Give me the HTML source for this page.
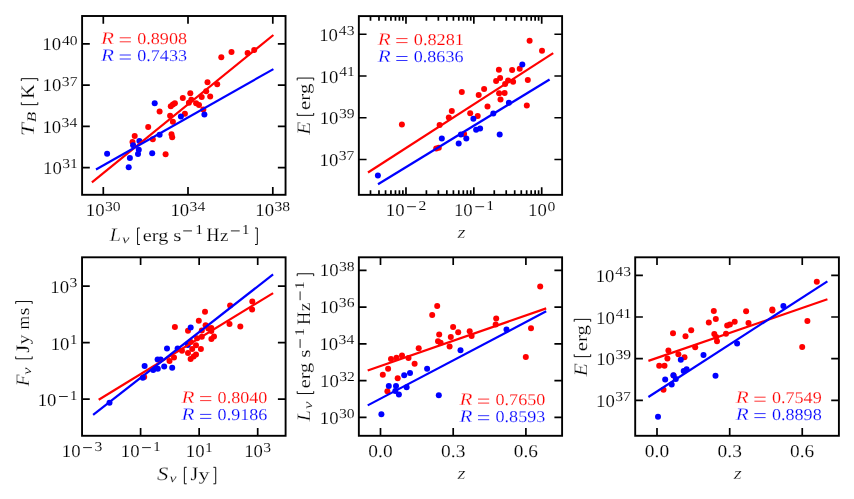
<!DOCTYPE html>
<html><head><meta charset="utf-8"><title>Correlations</title>
<style>html,body{margin:0;padding:0;background:#fff;overflow:hidden}svg{display:block;will-change:transform}text{font-family:"Liberation Serif",serif;text-rendering:geometricPrecision}</style></head>
<body>
<svg width="854" height="499" viewBox="0 0 854 499">
<rect width="854" height="499" fill="#fff"/>
<g fill="#ff0000"><circle cx="134.7" cy="135.9" r="3.0"/><circle cx="132.5" cy="142.1" r="3.0"/><circle cx="148.2" cy="126.9" r="3.0"/><circle cx="152.8" cy="139.3" r="3.0"/><circle cx="159.6" cy="111.4" r="3.0"/><circle cx="165.6" cy="154.3" r="3.0"/><circle cx="170.1" cy="115.8" r="3.0"/><circle cx="172.9" cy="121.7" r="3.0"/><circle cx="171.5" cy="134.3" r="3.0"/><circle cx="172.2" cy="137.3" r="3.0"/><circle cx="170.8" cy="106.2" r="3.0"/><circle cx="172.9" cy="104.6" r="3.0"/><circle cx="174.9" cy="103.3" r="3.0"/><circle cx="182.8" cy="98.1" r="3.0"/><circle cx="184.9" cy="113.7" r="3.0"/><circle cx="188.9" cy="102.8" r="3.0"/><circle cx="190.3" cy="93.3" r="3.0"/><circle cx="191.3" cy="99.7" r="3.0"/><circle cx="196.1" cy="103.3" r="3.0"/><circle cx="199.0" cy="104.9" r="3.0"/><circle cx="201.7" cy="96.9" r="3.0"/><circle cx="203.3" cy="109.4" r="3.0"/><circle cx="206.2" cy="91.3" r="3.0"/><circle cx="210.2" cy="96.5" r="3.0"/><circle cx="207.5" cy="82.3" r="3.0"/><circle cx="217.2" cy="84.3" r="3.0"/><circle cx="221.3" cy="57.3" r="3.0"/><circle cx="231.5" cy="52.1" r="3.0"/><circle cx="247.6" cy="52.9" r="3.0"/><circle cx="254.2" cy="50.1" r="3.0"/></g>
<g fill="#0000ff"><circle cx="107.1" cy="153.7" r="3.0"/><circle cx="128.7" cy="167.3" r="3.0"/><circle cx="129.9" cy="158.1" r="3.0"/><circle cx="133.1" cy="145.3" r="3.0"/><circle cx="139.4" cy="141.1" r="3.0"/><circle cx="138.8" cy="149.7" r="3.0"/><circle cx="138.0" cy="153.9" r="3.0"/><circle cx="152.2" cy="153.3" r="3.0"/><circle cx="159.6" cy="134.8" r="3.0"/><circle cx="154.7" cy="103.3" r="3.0"/><circle cx="180.9" cy="116.4" r="3.0"/><circle cx="204.4" cy="114.5" r="3.0"/></g>
<path d="M91.9 182.3L273.4 35.0" stroke="#ff0000" stroke-width="2.2" fill="none"/>
<path d="M96.0 169.5L273.4 69.1" stroke="#0000ff" stroke-width="2.2" fill="none"/>
<path d="M103.30 16.00v7.7M103.30 194.80v-7.7M188.00 16.00v7.7M188.00 194.80v-7.7M272.80 16.00v7.7M272.80 194.80v-7.7M82.10 43.80h7.7M285.55 43.80h-7.7M82.10 85.07h7.7M285.55 85.07h-7.7M82.10 126.33h7.7M285.55 126.33h-7.7M82.10 167.60h7.7M285.55 167.60h-7.7" stroke="#000" stroke-width="1.7" fill="none"/>
<rect x="82.10" y="16.00" width="203.45" height="178.80" fill="none" stroke="#000" stroke-width="1.9"/>
<text transform="translate(42.31,50.00) scale(1.042,1)" font-size="18" fill="#000" stroke="#fff" stroke-width="0.16" vector-effect="non-scaling-stroke">10</text>
<text transform="translate(61.96,44.60) scale(1.150,1)" font-size="13.6" fill="#000" stroke="#fff" stroke-width="0.1" vector-effect="non-scaling-stroke">40</text>
<text transform="translate(42.61,91.27) scale(1.042,1)" font-size="18" fill="#000" stroke="#fff" stroke-width="0.16" vector-effect="non-scaling-stroke">10</text>
<text transform="translate(61.81,85.87) scale(1.150,1)" font-size="13.6" fill="#000" stroke="#fff" stroke-width="0.1" vector-effect="non-scaling-stroke">37</text>
<text transform="translate(42.40,132.53) scale(1.042,1)" font-size="18" fill="#000" stroke="#fff" stroke-width="0.16" vector-effect="non-scaling-stroke">10</text>
<text transform="translate(61.60,127.13) scale(1.150,1)" font-size="13.6" fill="#000" stroke="#fff" stroke-width="0.1" vector-effect="non-scaling-stroke">34</text>
<text transform="translate(43.10,173.80) scale(1.042,1)" font-size="18" fill="#000" stroke="#fff" stroke-width="0.16" vector-effect="non-scaling-stroke">10</text>
<text transform="translate(62.30,168.40) scale(1.150,1)" font-size="13.6" fill="#000" stroke="#fff" stroke-width="0.1" vector-effect="non-scaling-stroke">31</text>
<text transform="translate(85.85,216.20) scale(1.042,1)" font-size="18" fill="#000" stroke="#fff" stroke-width="0.16" vector-effect="non-scaling-stroke">10</text>
<text transform="translate(105.05,210.60) scale(1.150,1)" font-size="13.6" fill="#000" stroke="#fff" stroke-width="0.1" vector-effect="non-scaling-stroke">30</text>
<text transform="translate(170.38,216.20) scale(1.042,1)" font-size="18" fill="#000" stroke="#fff" stroke-width="0.16" vector-effect="non-scaling-stroke">10</text>
<text transform="translate(189.58,210.60) scale(1.150,1)" font-size="13.6" fill="#000" stroke="#fff" stroke-width="0.1" vector-effect="non-scaling-stroke">34</text>
<text transform="translate(255.35,216.20) scale(1.042,1)" font-size="18" fill="#000" stroke="#fff" stroke-width="0.16" vector-effect="non-scaling-stroke">10</text>
<text transform="translate(274.55,210.60) scale(1.150,1)" font-size="13.6" fill="#000" stroke="#fff" stroke-width="0.1" vector-effect="non-scaling-stroke">38</text>
<text transform="translate(101.11,43.70) scale(1.210,1)" font-size="17.5" font-style="italic" fill="#ff0000" stroke="#fff" stroke-width="0.28" vector-effect="non-scaling-stroke">R</text>
<path d="M119.70 37.80H130.90" stroke="#ff0000" stroke-width="0.8" fill="none"/>
<path d="M119.70 41.80H130.90" stroke="#ff0000" stroke-width="0.8" fill="none"/>
<text transform="translate(137.21,43.70) scale(1.097,1)" font-size="16.5" fill="#ff0000" stroke="#fff" stroke-width="0.16" vector-effect="non-scaling-stroke">0.8908</text>
<text transform="translate(101.11,60.90) scale(1.210,1)" font-size="17.5" font-style="italic" fill="#0000ff" stroke="#fff" stroke-width="0.28" vector-effect="non-scaling-stroke">R</text>
<path d="M119.70 55.00H130.90" stroke="#0000ff" stroke-width="0.8" fill="none"/>
<path d="M119.70 59.00H130.90" stroke="#0000ff" stroke-width="0.8" fill="none"/>
<text transform="translate(137.21,60.90) scale(1.097,1)" font-size="16.5" fill="#0000ff" stroke="#fff" stroke-width="0.16" vector-effect="non-scaling-stroke">0.7433</text>
<text transform="translate(109.74,240.90) scale(1.062,1)" font-size="19.0" font-style="italic" fill="#000" stroke="#fff" stroke-width="0.28" vector-effect="non-scaling-stroke">L</text>
<text transform="translate(122.07,243.00) scale(1.372,1)" font-size="12.2" font-style="italic" fill="#000" stroke="#fff" stroke-width="0.1" vector-effect="non-scaling-stroke">ν</text>
<path d="M139.90 228.00L137.57 228.00L137.57 244.50L139.90 244.50" stroke="#000" stroke-width="0.95" fill="none" stroke-linejoin="miter"/>
<text transform="translate(142.81,240.90) scale(1.178,1)" font-size="17.2" fill="#000" stroke="#fff" stroke-width="0.16" vector-effect="non-scaling-stroke">erg</text>
<text transform="translate(173.23,240.90) scale(1.230,1)" font-size="17.2" fill="#000" stroke="#fff" stroke-width="0.16" vector-effect="non-scaling-stroke">s</text>
<path d="M183.20 230.90H192.00" stroke="#000" stroke-width="0.85" fill="none"/>
<text transform="translate(195.13,234.40) scale(1.150,1)" font-size="13.6" fill="#000" stroke="#fff" stroke-width="0.1" vector-effect="non-scaling-stroke">1</text>
<text transform="translate(206.39,240.90) scale(0.935,1)" font-size="19.0" fill="#000" stroke="#fff" stroke-width="0.16" vector-effect="non-scaling-stroke">H</text>
<text transform="translate(219.99,240.90) scale(1.106,1)" font-size="17.2" fill="#000" stroke="#fff" stroke-width="0.16" vector-effect="non-scaling-stroke">z</text>
<path d="M230.90 230.90H239.70" stroke="#000" stroke-width="0.85" fill="none"/>
<text transform="translate(241.83,234.40) scale(1.150,1)" font-size="13.6" fill="#000" stroke="#fff" stroke-width="0.1" vector-effect="non-scaling-stroke">1</text>
<path d="M255.00 228.00L257.32 228.00L257.32 244.50L255.00 244.50" stroke="#000" stroke-width="0.95" fill="none" stroke-linejoin="miter"/>
<text transform="translate(34.20,136.35) rotate(-90) scale(1.244,1)" font-size="19.0" font-style="italic" fill="#000" stroke="#fff" stroke-width="0.28" vector-effect="non-scaling-stroke">T</text>
<text transform="translate(36.20,122.36) rotate(-90) scale(1.301,1)" font-size="13.0" font-style="italic" fill="#000" stroke="#fff" stroke-width="0.1" vector-effect="non-scaling-stroke">B</text>
<path d="M21.30 102.30L21.30 104.63L37.80 104.63L37.80 102.30" stroke="#000" stroke-width="0.95" fill="none" stroke-linejoin="miter"/>
<text transform="translate(34.20,98.87) rotate(-90) scale(1.040,1)" font-size="19.0" fill="#000" stroke="#fff" stroke-width="0.16" vector-effect="non-scaling-stroke">K</text>
<path d="M21.30 81.00L21.30 78.68L37.80 78.68L37.80 81.00" stroke="#000" stroke-width="0.95" fill="none" stroke-linejoin="miter"/>
<g fill="#ff0000"><circle cx="401.9" cy="124.6" r="3.0"/><circle cx="439.6" cy="125.1" r="3.0"/><circle cx="436.2" cy="148.5" r="3.0"/><circle cx="438.8" cy="147.7" r="3.0"/><circle cx="448.8" cy="117.6" r="3.0"/><circle cx="451.8" cy="110.9" r="3.0"/><circle cx="464.1" cy="134.1" r="3.0"/><circle cx="470.2" cy="113.2" r="3.0"/><circle cx="477.7" cy="116.1" r="3.0"/><circle cx="461.8" cy="92.1" r="3.0"/><circle cx="478.7" cy="95.1" r="3.0"/><circle cx="484.1" cy="89.1" r="3.0"/><circle cx="487.5" cy="106.4" r="3.0"/><circle cx="499.1" cy="93.3" r="3.0"/><circle cx="504.6" cy="92.9" r="3.0"/><circle cx="500.5" cy="99.4" r="3.0"/><circle cx="526.8" cy="105.6" r="3.0"/><circle cx="496.1" cy="81.1" r="3.0"/><circle cx="500.1" cy="78.1" r="3.0"/><circle cx="508.1" cy="80.5" r="3.0"/><circle cx="513.1" cy="81.7" r="3.0"/><circle cx="505.1" cy="84.1" r="3.0"/><circle cx="498.9" cy="69.7" r="3.0"/><circle cx="512.1" cy="70.1" r="3.0"/><circle cx="519.7" cy="68.7" r="3.0"/><circle cx="527.8" cy="80.1" r="3.0"/><circle cx="529.6" cy="40.7" r="3.0"/><circle cx="542.0" cy="50.7" r="3.0"/></g>
<g fill="#0000ff"><circle cx="377.9" cy="175.4" r="3.0"/><circle cx="441.8" cy="138.5" r="3.0"/><circle cx="458.7" cy="143.6" r="3.0"/><circle cx="460.9" cy="134.5" r="3.0"/><circle cx="466.3" cy="138.4" r="3.0"/><circle cx="473.4" cy="118.7" r="3.0"/><circle cx="476.1" cy="129.7" r="3.0"/><circle cx="480.1" cy="128.5" r="3.0"/><circle cx="493.3" cy="113.5" r="3.0"/><circle cx="499.7" cy="134.5" r="3.0"/><circle cx="508.9" cy="102.7" r="3.0"/><circle cx="522.3" cy="64.5" r="3.0"/></g>
<path d="M368.0 172.5L553.2 53.1" stroke="#ff0000" stroke-width="2.2" fill="none"/>
<path d="M378.0 184.2L549.6 79.5" stroke="#0000ff" stroke-width="2.2" fill="none"/>
<path d="M405.98 16.10v7.7M405.98 194.85v-7.7M473.84 16.10v7.7M473.84 194.85v-7.7M541.70 16.10v7.7M541.70 194.85v-7.7M358.85 34.25h7.7M562.10 34.25h-7.7M358.85 76.00h7.7M562.10 76.00h-7.7M358.85 117.75h7.7M562.10 117.75h-7.7M358.85 159.50h7.7M562.10 159.50h-7.7M370.50 16.10v4.7M370.50 194.85v-4.7M378.98 16.10v4.7M378.98 194.85v-4.7M385.55 16.10v4.7M385.55 194.85v-4.7M390.93 16.10v4.7M390.93 194.85v-4.7M395.47 16.10v4.7M395.47 194.85v-4.7M399.40 16.10v4.7M399.40 194.85v-4.7M402.87 16.10v4.7M402.87 194.85v-4.7M426.41 16.10v4.7M426.41 194.85v-4.7M438.36 16.10v4.7M438.36 194.85v-4.7M446.84 16.10v4.7M446.84 194.85v-4.7M453.41 16.10v4.7M453.41 194.85v-4.7M458.79 16.10v4.7M458.79 194.85v-4.7M463.33 16.10v4.7M463.33 194.85v-4.7M467.26 16.10v4.7M467.26 194.85v-4.7M470.73 16.10v4.7M470.73 194.85v-4.7M494.27 16.10v4.7M494.27 194.85v-4.7M506.22 16.10v4.7M506.22 194.85v-4.7M514.70 16.10v4.7M514.70 194.85v-4.7M521.27 16.10v4.7M521.27 194.85v-4.7M526.65 16.10v4.7M526.65 194.85v-4.7M531.19 16.10v4.7M531.19 194.85v-4.7M535.12 16.10v4.7M535.12 194.85v-4.7M538.59 16.10v4.7M538.59 194.85v-4.7" stroke="#000" stroke-width="1.7" fill="none"/>
<rect x="358.85" y="16.10" width="203.25" height="178.75" fill="none" stroke="#000" stroke-width="1.9"/>
<text transform="translate(319.23,40.85) scale(1.042,1)" font-size="18" fill="#000" stroke="#fff" stroke-width="0.16" vector-effect="non-scaling-stroke">10</text>
<text transform="translate(338.87,34.55) scale(1.150,1)" font-size="13.6" fill="#000" stroke="#fff" stroke-width="0.1" vector-effect="non-scaling-stroke">43</text>
<text transform="translate(319.56,82.60) scale(1.042,1)" font-size="18" fill="#000" stroke="#fff" stroke-width="0.16" vector-effect="non-scaling-stroke">10</text>
<text transform="translate(339.20,76.30) scale(1.150,1)" font-size="13.6" fill="#000" stroke="#fff" stroke-width="0.1" vector-effect="non-scaling-stroke">41</text>
<text transform="translate(319.70,124.35) scale(1.042,1)" font-size="18" fill="#000" stroke="#fff" stroke-width="0.16" vector-effect="non-scaling-stroke">10</text>
<text transform="translate(338.90,118.05) scale(1.150,1)" font-size="13.6" fill="#000" stroke="#fff" stroke-width="0.1" vector-effect="non-scaling-stroke">39</text>
<text transform="translate(319.51,166.10) scale(1.042,1)" font-size="18" fill="#000" stroke="#fff" stroke-width="0.16" vector-effect="non-scaling-stroke">10</text>
<text transform="translate(338.71,159.80) scale(1.150,1)" font-size="13.6" fill="#000" stroke="#fff" stroke-width="0.1" vector-effect="non-scaling-stroke">37</text>
<text transform="translate(385.75,216.20) scale(1.042,1)" font-size="18" fill="#000" stroke="#fff" stroke-width="0.16" vector-effect="non-scaling-stroke">10</text>
<path d="M407.10 206.70H415.90" stroke="#000" stroke-width="0.85" fill="none"/>
<text transform="translate(418.61,210.20) scale(1.150,1)" font-size="13.6" fill="#000" stroke="#fff" stroke-width="0.1" vector-effect="non-scaling-stroke">2</text>
<text transform="translate(453.99,216.20) scale(1.042,1)" font-size="18" fill="#000" stroke="#fff" stroke-width="0.16" vector-effect="non-scaling-stroke">10</text>
<path d="M475.34 206.70H484.14" stroke="#000" stroke-width="0.85" fill="none"/>
<text transform="translate(486.16,210.20) scale(1.150,1)" font-size="13.6" fill="#000" stroke="#fff" stroke-width="0.1" vector-effect="non-scaling-stroke">1</text>
<text transform="translate(528.09,216.20) scale(1.042,1)" font-size="18" fill="#000" stroke="#fff" stroke-width="0.16" vector-effect="non-scaling-stroke">10</text>
<text transform="translate(547.44,210.60) scale(1.150,1)" font-size="13.6" fill="#000" stroke="#fff" stroke-width="0.1" vector-effect="non-scaling-stroke">0</text>
<text transform="translate(377.71,44.50) scale(1.210,1)" font-size="17.5" font-style="italic" fill="#ff0000" stroke="#fff" stroke-width="0.28" vector-effect="non-scaling-stroke">R</text>
<path d="M396.30 38.60H407.50" stroke="#ff0000" stroke-width="0.8" fill="none"/>
<path d="M396.30 42.60H407.50" stroke="#ff0000" stroke-width="0.8" fill="none"/>
<text transform="translate(413.80,44.50) scale(1.106,1)" font-size="16.5" fill="#ff0000" stroke="#fff" stroke-width="0.16" vector-effect="non-scaling-stroke">0.8281</text>
<text transform="translate(377.71,62.40) scale(1.210,1)" font-size="17.5" font-style="italic" fill="#0000ff" stroke="#fff" stroke-width="0.28" vector-effect="non-scaling-stroke">R</text>
<path d="M396.30 56.50H407.50" stroke="#0000ff" stroke-width="0.8" fill="none"/>
<path d="M396.30 60.50H407.50" stroke="#0000ff" stroke-width="0.8" fill="none"/>
<text transform="translate(413.81,62.40) scale(1.094,1)" font-size="16.5" fill="#0000ff" stroke="#fff" stroke-width="0.16" vector-effect="non-scaling-stroke">0.8636</text>
<text transform="translate(310.10,134.85) rotate(-90) scale(1.128,1)" font-size="19.0" font-style="italic" fill="#000" stroke="#fff" stroke-width="0.28" vector-effect="non-scaling-stroke">E</text>
<path d="M297.20 113.00L297.20 115.33L313.70 115.33L313.70 113.00" stroke="#000" stroke-width="0.95" fill="none" stroke-linejoin="miter"/>
<text transform="translate(310.10,109.91) rotate(-90) scale(1.212,1)" font-size="17.2" fill="#000" stroke="#fff" stroke-width="0.16" vector-effect="non-scaling-stroke">erg</text>
<path d="M297.20 80.40L297.20 78.08L313.70 78.08L313.70 80.40" stroke="#000" stroke-width="0.95" fill="none" stroke-linejoin="miter"/>
<text transform="translate(457.53,237.60) scale(1.166,1)" font-size="17.5" font-style="italic" fill="#000" stroke="#fff" stroke-width="0.28" vector-effect="non-scaling-stroke">z</text>
<g fill="#ff0000"><circle cx="144.2" cy="377.1" r="3.0"/></g>
<g fill="#0000ff"><circle cx="109.5" cy="402.7" r="3.0"/><circle cx="142.8" cy="377.7" r="3.0"/><circle cx="144.6" cy="366.1" r="3.0"/><circle cx="153.2" cy="370.1" r="3.0"/><circle cx="157.8" cy="368.7" r="3.0"/><circle cx="157.6" cy="359.4" r="3.0"/><circle cx="160.6" cy="359.4" r="3.0"/><circle cx="164.2" cy="366.5" r="3.0"/><circle cx="167.0" cy="348.6" r="3.0"/><circle cx="172.2" cy="367.7" r="3.0"/><circle cx="177.6" cy="348.6" r="3.0"/><circle cx="187.8" cy="344.9" r="3.0"/></g>
<g fill="#ff0000"><circle cx="174.9" cy="327.1" r="3.0"/><circle cx="205.0" cy="311.7" r="3.0"/><circle cx="198.8" cy="320.8" r="3.0"/><circle cx="230.1" cy="305.5" r="3.0"/><circle cx="229.5" cy="323.9" r="3.0"/><circle cx="240.3" cy="326.6" r="3.0"/><circle cx="252.3" cy="301.5" r="3.0"/><circle cx="252.1" cy="309.5" r="3.0"/><circle cx="188.0" cy="330.7" r="3.0"/><circle cx="205.6" cy="325.3" r="3.0"/><circle cx="201.8" cy="330.4" r="3.0"/><circle cx="208.3" cy="328.6" r="3.0"/><circle cx="211.3" cy="328.0" r="3.0"/><circle cx="211.3" cy="331.0" r="3.0"/><circle cx="214.0" cy="336.4" r="3.0"/><circle cx="211.4" cy="339.0" r="3.0"/><circle cx="201.8" cy="336.7" r="3.0"/><circle cx="197.1" cy="338.3" r="3.0"/><circle cx="190.8" cy="342.0" r="3.0"/><circle cx="196.0" cy="345.2" r="3.0"/><circle cx="200.9" cy="349.1" r="3.0"/><circle cx="192.2" cy="349.1" r="3.0"/><circle cx="188.0" cy="353.0" r="3.0"/><circle cx="196.0" cy="354.6" r="3.0"/><circle cx="193.6" cy="356.6" r="3.0"/><circle cx="190.6" cy="359.1" r="3.0"/><circle cx="182.0" cy="350.8" r="3.0"/><circle cx="174.0" cy="357.5" r="3.0"/><circle cx="169.5" cy="361.0" r="3.0"/></g>
<g fill="#0000ff"><circle cx="190.7" cy="327.4" r="3.0"/></g>
<path d="M98.7 399.7L273.1 293.1" stroke="#ff0000" stroke-width="2.2" fill="none"/>
<path d="M93.1 414.9L273.1 274.4" stroke="#0000ff" stroke-width="2.2" fill="none"/>
<path d="M140.60 257.30v7.7M140.60 435.80v-7.7M199.15 257.30v7.7M199.15 435.80v-7.7M257.70 257.30v7.7M257.70 435.80v-7.7M82.05 286.10h7.7M285.60 286.10h-7.7M82.05 342.60h7.7M285.60 342.60h-7.7M82.05 399.10h7.7M285.60 399.10h-7.7" stroke="#000" stroke-width="1.7" fill="none"/>
<rect x="82.05" y="257.30" width="203.55" height="178.50" fill="none" stroke="#000" stroke-width="1.9"/>
<text transform="translate(50.29,293.00) scale(1.042,1)" font-size="18" fill="#000" stroke="#fff" stroke-width="0.16" vector-effect="non-scaling-stroke">10</text>
<text transform="translate(69.49,287.00) scale(1.150,1)" font-size="13.6" fill="#000" stroke="#fff" stroke-width="0.1" vector-effect="non-scaling-stroke">3</text>
<text transform="translate(50.74,349.50) scale(1.042,1)" font-size="18" fill="#000" stroke="#fff" stroke-width="0.16" vector-effect="non-scaling-stroke">10</text>
<text transform="translate(69.82,343.50) scale(1.150,1)" font-size="13.6" fill="#000" stroke="#fff" stroke-width="0.1" vector-effect="non-scaling-stroke">1</text>
<text transform="translate(37.64,406.00) scale(1.042,1)" font-size="18" fill="#000" stroke="#fff" stroke-width="0.16" vector-effect="non-scaling-stroke">10</text>
<path d="M58.99 396.50H67.79" stroke="#000" stroke-width="0.85" fill="none"/>
<text transform="translate(69.82,400.00) scale(1.150,1)" font-size="13.6" fill="#000" stroke="#fff" stroke-width="0.1" vector-effect="non-scaling-stroke">1</text>
<text transform="translate(61.77,457.10) scale(1.042,1)" font-size="18" fill="#000" stroke="#fff" stroke-width="0.16" vector-effect="non-scaling-stroke">10</text>
<path d="M83.12 447.60H91.92" stroke="#000" stroke-width="0.85" fill="none"/>
<text transform="translate(94.57,451.10) scale(1.150,1)" font-size="13.6" fill="#000" stroke="#fff" stroke-width="0.1" vector-effect="non-scaling-stroke">3</text>
<text transform="translate(120.75,457.10) scale(1.042,1)" font-size="18" fill="#000" stroke="#fff" stroke-width="0.16" vector-effect="non-scaling-stroke">10</text>
<path d="M142.10 447.60H150.90" stroke="#000" stroke-width="0.85" fill="none"/>
<text transform="translate(152.92,451.10) scale(1.150,1)" font-size="13.6" fill="#000" stroke="#fff" stroke-width="0.1" vector-effect="non-scaling-stroke">1</text>
<text transform="translate(185.85,457.10) scale(1.042,1)" font-size="18" fill="#000" stroke="#fff" stroke-width="0.16" vector-effect="non-scaling-stroke">10</text>
<text transform="translate(204.92,451.50) scale(1.150,1)" font-size="13.6" fill="#000" stroke="#fff" stroke-width="0.1" vector-effect="non-scaling-stroke">1</text>
<text transform="translate(244.17,457.10) scale(1.042,1)" font-size="18" fill="#000" stroke="#fff" stroke-width="0.16" vector-effect="non-scaling-stroke">10</text>
<text transform="translate(263.37,451.50) scale(1.150,1)" font-size="13.6" fill="#000" stroke="#fff" stroke-width="0.1" vector-effect="non-scaling-stroke">3</text>
<text transform="translate(181.51,402.50) scale(1.210,1)" font-size="17.5" font-style="italic" fill="#ff0000" stroke="#fff" stroke-width="0.28" vector-effect="non-scaling-stroke">R</text>
<path d="M200.10 396.60H211.30" stroke="#ff0000" stroke-width="0.8" fill="none"/>
<path d="M200.10 400.60H211.30" stroke="#ff0000" stroke-width="0.8" fill="none"/>
<text transform="translate(217.61,402.50) scale(1.097,1)" font-size="16.5" fill="#ff0000" stroke="#fff" stroke-width="0.16" vector-effect="non-scaling-stroke">0.8040</text>
<text transform="translate(181.51,420.30) scale(1.210,1)" font-size="17.5" font-style="italic" fill="#0000ff" stroke="#fff" stroke-width="0.28" vector-effect="non-scaling-stroke">R</text>
<path d="M200.10 414.40H211.30" stroke="#0000ff" stroke-width="0.8" fill="none"/>
<path d="M200.10 418.40H211.30" stroke="#0000ff" stroke-width="0.8" fill="none"/>
<text transform="translate(217.61,420.30) scale(1.094,1)" font-size="16.5" fill="#0000ff" stroke="#fff" stroke-width="0.16" vector-effect="non-scaling-stroke">0.9186</text>
<text transform="translate(156.93,480.20) scale(1.193,1)" font-size="19.0" font-style="italic" fill="#000" stroke="#fff" stroke-width="0.28" vector-effect="non-scaling-stroke">S</text>
<text transform="translate(169.38,482.10) scale(1.296,1)" font-size="12.2" font-style="italic" fill="#000" stroke="#fff" stroke-width="0.1" vector-effect="non-scaling-stroke">ν</text>
<path d="M186.70 467.30L184.38 467.30L184.38 483.80L186.70 483.80" stroke="#000" stroke-width="0.95" fill="none" stroke-linejoin="miter"/>
<text transform="translate(190.59,480.20) scale(1.031,1)" font-size="19.0" fill="#000" stroke="#fff" stroke-width="0.16" vector-effect="non-scaling-stroke">J</text>
<text transform="translate(198.53,480.20) scale(1.286,1)" font-size="17.2" fill="#000" stroke="#fff" stroke-width="0.16" vector-effect="non-scaling-stroke">y</text>
<path d="M213.40 467.30L215.73 467.30L215.73 483.80L213.40 483.80" stroke="#000" stroke-width="0.95" fill="none" stroke-linejoin="miter"/>
<text transform="translate(28.60,386.25) rotate(-90) scale(1.020,1)" font-size="19.0" font-style="italic" fill="#000" stroke="#fff" stroke-width="0.28" vector-effect="non-scaling-stroke">F</text>
<text transform="translate(31.00,374.77) rotate(-90) scale(1.334,1)" font-size="12.2" font-style="italic" fill="#000" stroke="#fff" stroke-width="0.1" vector-effect="non-scaling-stroke">ν</text>
<path d="M15.70 356.45L15.70 358.77L32.20 358.77L32.20 356.45" stroke="#000" stroke-width="0.95" fill="none" stroke-linejoin="miter"/>
<text transform="translate(28.60,352.67) rotate(-90) scale(1.061,1)" font-size="19.0" fill="#000" stroke="#fff" stroke-width="0.16" vector-effect="non-scaling-stroke">J</text>
<text transform="translate(28.60,344.49) rotate(-90) scale(1.153,1)" font-size="17.2" fill="#000" stroke="#fff" stroke-width="0.16" vector-effect="non-scaling-stroke">y</text>
<text transform="translate(28.60,329.52) rotate(-90) scale(1.020,1)" font-size="17.2" fill="#000" stroke="#fff" stroke-width="0.16" vector-effect="non-scaling-stroke">m</text>
<text transform="translate(28.60,315.15) rotate(-90) scale(1.137,1)" font-size="17.2" fill="#000" stroke="#fff" stroke-width="0.16" vector-effect="non-scaling-stroke">s</text>
<path d="M15.70 303.85L15.70 301.52L32.20 301.52L32.20 303.85" stroke="#000" stroke-width="0.95" fill="none" stroke-linejoin="miter"/>
<g fill="#ff0000"><circle cx="437.2" cy="306.1" r="3.0"/><circle cx="432.2" cy="315.1" r="3.0"/><circle cx="453.1" cy="327.1" r="3.0"/><circle cx="458.2" cy="332.2" r="3.0"/><circle cx="439.2" cy="334.5" r="3.0"/><circle cx="450.8" cy="337.1" r="3.0"/><circle cx="438.0" cy="341.2" r="3.0"/><circle cx="440.6" cy="342.7" r="3.0"/><circle cx="449.6" cy="346.5" r="3.0"/><circle cx="418.7" cy="348.3" r="3.0"/><circle cx="382.8" cy="374.8" r="3.0"/><circle cx="388.1" cy="368.8" r="3.0"/><circle cx="391.0" cy="359.0" r="3.0"/><circle cx="396.5" cy="357.8" r="3.0"/><circle cx="402.0" cy="355.6" r="3.0"/><circle cx="408.5" cy="358.0" r="3.0"/><circle cx="414.6" cy="363.8" r="3.0"/><circle cx="397.7" cy="378.2" r="3.0"/><circle cx="387.4" cy="391.2" r="3.0"/><circle cx="540.2" cy="286.6" r="3.0"/><circle cx="531.0" cy="328.2" r="3.0"/><circle cx="525.8" cy="357.0" r="3.0"/><circle cx="496.2" cy="318.5" r="3.0"/><circle cx="495.7" cy="324.6" r="3.0"/><circle cx="469.7" cy="331.3" r="3.0"/><circle cx="471.6" cy="335.9" r="3.0"/></g>
<g fill="#0000ff"><circle cx="381.4" cy="414.3" r="3.0"/><circle cx="388.8" cy="386.1" r="3.0"/><circle cx="396.0" cy="386.1" r="3.0"/><circle cx="395.3" cy="391.0" r="3.0"/><circle cx="398.9" cy="394.6" r="3.0"/><circle cx="406.6" cy="387.3" r="3.0"/><circle cx="404.2" cy="375.3" r="3.0"/><circle cx="410.0" cy="372.9" r="3.0"/><circle cx="427.1" cy="368.8" r="3.0"/><circle cx="438.8" cy="395.3" r="3.0"/><circle cx="460.5" cy="350.2" r="3.0"/><circle cx="506.5" cy="329.4" r="3.0"/></g>
<path d="M367.7 370.5L546.2 308.4" stroke="#ff0000" stroke-width="2.2" fill="none"/>
<path d="M367.7 405.4L546.2 311.3" stroke="#0000ff" stroke-width="2.2" fill="none"/>
<path d="M380.50 257.30v7.7M380.50 435.80v-7.7M453.20 257.30v7.7M453.20 435.80v-7.7M525.90 257.30v7.7M525.90 435.80v-7.7M358.85 270.30h7.7M562.10 270.30h-7.7M358.85 307.10h7.7M562.10 307.10h-7.7M358.85 343.80h7.7M562.10 343.80h-7.7M358.85 380.60h7.7M562.10 380.60h-7.7M358.85 417.40h7.7M562.10 417.40h-7.7" stroke="#000" stroke-width="1.7" fill="none"/>
<rect x="358.85" y="257.30" width="203.25" height="178.50" fill="none" stroke="#000" stroke-width="1.9"/>
<text transform="translate(319.75,276.40) scale(1.042,1)" font-size="18" fill="#000" stroke="#fff" stroke-width="0.16" vector-effect="non-scaling-stroke">10</text>
<text transform="translate(338.96,270.50) scale(1.150,1)" font-size="13.6" fill="#000" stroke="#fff" stroke-width="0.1" vector-effect="non-scaling-stroke">38</text>
<text transform="translate(319.63,313.20) scale(1.042,1)" font-size="18" fill="#000" stroke="#fff" stroke-width="0.16" vector-effect="non-scaling-stroke">10</text>
<text transform="translate(338.83,307.30) scale(1.150,1)" font-size="13.6" fill="#000" stroke="#fff" stroke-width="0.1" vector-effect="non-scaling-stroke">36</text>
<text transform="translate(319.40,349.90) scale(1.042,1)" font-size="18" fill="#000" stroke="#fff" stroke-width="0.16" vector-effect="non-scaling-stroke">10</text>
<text transform="translate(338.60,344.00) scale(1.150,1)" font-size="13.6" fill="#000" stroke="#fff" stroke-width="0.1" vector-effect="non-scaling-stroke">34</text>
<text transform="translate(320.02,386.70) scale(1.042,1)" font-size="18" fill="#000" stroke="#fff" stroke-width="0.16" vector-effect="non-scaling-stroke">10</text>
<text transform="translate(339.22,380.80) scale(1.150,1)" font-size="13.6" fill="#000" stroke="#fff" stroke-width="0.1" vector-effect="non-scaling-stroke">32</text>
<text transform="translate(319.75,423.50) scale(1.042,1)" font-size="18" fill="#000" stroke="#fff" stroke-width="0.16" vector-effect="non-scaling-stroke">10</text>
<text transform="translate(338.96,417.60) scale(1.150,1)" font-size="13.6" fill="#000" stroke="#fff" stroke-width="0.1" vector-effect="non-scaling-stroke">30</text>
<text transform="translate(368.36,457.10) scale(1.079,1)" font-size="18" fill="#000" stroke="#fff" stroke-width="0.16" vector-effect="non-scaling-stroke">0.0</text>
<text transform="translate(441.06,457.10) scale(1.080,1)" font-size="18" fill="#000" stroke="#fff" stroke-width="0.16" vector-effect="non-scaling-stroke">0.3</text>
<text transform="translate(513.77,457.10) scale(1.072,1)" font-size="18" fill="#000" stroke="#fff" stroke-width="0.16" vector-effect="non-scaling-stroke">0.6</text>
<text transform="translate(459.41,405.00) scale(1.210,1)" font-size="17.5" font-style="italic" fill="#ff0000" stroke="#fff" stroke-width="0.28" vector-effect="non-scaling-stroke">R</text>
<path d="M478.00 399.10H489.20" stroke="#ff0000" stroke-width="0.8" fill="none"/>
<path d="M478.00 403.10H489.20" stroke="#ff0000" stroke-width="0.8" fill="none"/>
<text transform="translate(495.51,405.00) scale(1.097,1)" font-size="16.5" fill="#ff0000" stroke="#fff" stroke-width="0.16" vector-effect="non-scaling-stroke">0.7650</text>
<text transform="translate(459.41,421.60) scale(1.210,1)" font-size="17.5" font-style="italic" fill="#0000ff" stroke="#fff" stroke-width="0.28" vector-effect="non-scaling-stroke">R</text>
<path d="M478.00 415.70H489.20" stroke="#0000ff" stroke-width="0.8" fill="none"/>
<path d="M478.00 419.70H489.20" stroke="#0000ff" stroke-width="0.8" fill="none"/>
<text transform="translate(495.51,421.60) scale(1.097,1)" font-size="16.5" fill="#0000ff" stroke="#fff" stroke-width="0.16" vector-effect="non-scaling-stroke">0.8593</text>
<text transform="translate(310.10,421.36) rotate(-90) scale(1.062,1)" font-size="19.0" font-style="italic" fill="#000" stroke="#fff" stroke-width="0.28" vector-effect="non-scaling-stroke">L</text>
<text transform="translate(312.20,409.03) rotate(-90) scale(1.372,1)" font-size="12.2" font-style="italic" fill="#000" stroke="#fff" stroke-width="0.1" vector-effect="non-scaling-stroke">ν</text>
<path d="M297.20 391.20L297.20 393.52L313.70 393.52L313.70 391.20" stroke="#000" stroke-width="0.95" fill="none" stroke-linejoin="miter"/>
<text transform="translate(310.10,388.29) rotate(-90) scale(1.178,1)" font-size="17.2" fill="#000" stroke="#fff" stroke-width="0.16" vector-effect="non-scaling-stroke">erg</text>
<text transform="translate(310.10,357.87) rotate(-90) scale(1.230,1)" font-size="17.2" fill="#000" stroke="#fff" stroke-width="0.16" vector-effect="non-scaling-stroke">s</text>
<path d="M300.10 347.90V339.10" stroke="#000" stroke-width="0.85" fill="none"/>
<text transform="translate(303.60,335.97) rotate(-90) scale(1.150,1)" font-size="13.6" fill="#000" stroke="#fff" stroke-width="0.1" vector-effect="non-scaling-stroke">1</text>
<text transform="translate(310.10,324.71) rotate(-90) scale(0.935,1)" font-size="19.0" fill="#000" stroke="#fff" stroke-width="0.16" vector-effect="non-scaling-stroke">H</text>
<text transform="translate(310.10,311.11) rotate(-90) scale(1.106,1)" font-size="17.2" fill="#000" stroke="#fff" stroke-width="0.16" vector-effect="non-scaling-stroke">z</text>
<path d="M300.10 300.20V291.40" stroke="#000" stroke-width="0.85" fill="none"/>
<text transform="translate(303.60,289.27) rotate(-90) scale(1.150,1)" font-size="13.6" fill="#000" stroke="#fff" stroke-width="0.1" vector-effect="non-scaling-stroke">1</text>
<path d="M297.20 276.10L297.20 273.77L313.70 273.77L313.70 276.10" stroke="#000" stroke-width="0.95" fill="none" stroke-linejoin="miter"/>
<text transform="translate(457.43,478.80) scale(1.166,1)" font-size="17.5" font-style="italic" fill="#000" stroke="#fff" stroke-width="0.28" vector-effect="non-scaling-stroke">z</text>
<g fill="#ff0000"><circle cx="673.6" cy="375.5" r="3.0"/><circle cx="713.8" cy="311.1" r="3.0"/><circle cx="715.8" cy="319.1" r="3.0"/><circle cx="708.8" cy="322.6" r="3.0"/><circle cx="734.7" cy="321.7" r="3.0"/><circle cx="729.9" cy="324.5" r="3.0"/><circle cx="727.2" cy="325.6" r="3.0"/><circle cx="691.2" cy="330.2" r="3.0"/><circle cx="673.0" cy="333.2" r="3.0"/><circle cx="685.5" cy="336.3" r="3.0"/><circle cx="726.0" cy="333.8" r="3.0"/><circle cx="714.3" cy="334.0" r="3.0"/><circle cx="716.2" cy="337.0" r="3.0"/><circle cx="717.0" cy="341.2" r="3.0"/><circle cx="695.2" cy="347.2" r="3.0"/><circle cx="668.4" cy="350.5" r="3.0"/><circle cx="678.4" cy="354.2" r="3.0"/><circle cx="684.5" cy="357.3" r="3.0"/><circle cx="667.4" cy="358.5" r="3.0"/><circle cx="659.2" cy="365.7" r="3.0"/><circle cx="664.5" cy="365.7" r="3.0"/><circle cx="663.5" cy="389.7" r="3.0"/><circle cx="816.8" cy="281.7" r="3.0"/><circle cx="807.4" cy="320.9" r="3.0"/><circle cx="802.2" cy="346.9" r="3.0"/><circle cx="772.3" cy="309.5" r="3.0"/><circle cx="772.4" cy="310.6" r="3.0"/><circle cx="746.1" cy="311.3" r="3.0"/><circle cx="748.5" cy="322.9" r="3.0"/></g>
<g fill="#0000ff"><circle cx="658.0" cy="416.7" r="3.0"/><circle cx="665.2" cy="379.4" r="3.0"/><circle cx="671.7" cy="384.5" r="3.0"/><circle cx="673.4" cy="375.3" r="3.0"/><circle cx="675.8" cy="378.9" r="3.0"/><circle cx="683.7" cy="371.0" r="3.0"/><circle cx="686.6" cy="369.3" r="3.0"/><circle cx="680.8" cy="359.7" r="3.0"/><circle cx="703.5" cy="354.9" r="3.0"/><circle cx="715.5" cy="375.8" r="3.0"/><circle cx="737.1" cy="343.5" r="3.0"/><circle cx="783.4" cy="306.0" r="3.0"/></g>
<path d="M648.4 360.9L827.4 299.3" stroke="#ff0000" stroke-width="2.2" fill="none"/>
<path d="M648.4 397.0L827.4 281.3" stroke="#0000ff" stroke-width="2.2" fill="none"/>
<path d="M657.00 257.30v7.7M657.00 435.80v-7.7M729.70 257.30v7.7M729.70 435.80v-7.7M802.25 257.30v7.7M802.25 435.80v-7.7M635.20 275.40h7.7M838.90 275.40h-7.7M635.20 317.00h7.7M838.90 317.00h-7.7M635.20 358.70h7.7M838.90 358.70h-7.7M635.20 400.40h7.7M838.90 400.40h-7.7" stroke="#000" stroke-width="1.7" fill="none"/>
<rect x="635.20" y="257.30" width="203.70" height="178.50" fill="none" stroke="#000" stroke-width="1.9"/>
<text transform="translate(595.73,282.00) scale(1.042,1)" font-size="18" fill="#000" stroke="#fff" stroke-width="0.16" vector-effect="non-scaling-stroke">10</text>
<text transform="translate(615.37,275.90) scale(1.150,1)" font-size="13.6" fill="#000" stroke="#fff" stroke-width="0.1" vector-effect="non-scaling-stroke">43</text>
<text transform="translate(596.06,323.60) scale(1.042,1)" font-size="18" fill="#000" stroke="#fff" stroke-width="0.16" vector-effect="non-scaling-stroke">10</text>
<text transform="translate(615.70,317.50) scale(1.150,1)" font-size="13.6" fill="#000" stroke="#fff" stroke-width="0.1" vector-effect="non-scaling-stroke">41</text>
<text transform="translate(596.20,365.30) scale(1.042,1)" font-size="18" fill="#000" stroke="#fff" stroke-width="0.16" vector-effect="non-scaling-stroke">10</text>
<text transform="translate(615.40,359.20) scale(1.150,1)" font-size="13.6" fill="#000" stroke="#fff" stroke-width="0.1" vector-effect="non-scaling-stroke">39</text>
<text transform="translate(596.01,407.00) scale(1.042,1)" font-size="18" fill="#000" stroke="#fff" stroke-width="0.16" vector-effect="non-scaling-stroke">10</text>
<text transform="translate(615.21,400.90) scale(1.150,1)" font-size="13.6" fill="#000" stroke="#fff" stroke-width="0.1" vector-effect="non-scaling-stroke">37</text>
<text transform="translate(644.86,457.30) scale(1.079,1)" font-size="18" fill="#000" stroke="#fff" stroke-width="0.16" vector-effect="non-scaling-stroke">0.0</text>
<text transform="translate(717.56,457.30) scale(1.080,1)" font-size="18" fill="#000" stroke="#fff" stroke-width="0.16" vector-effect="non-scaling-stroke">0.3</text>
<text transform="translate(790.12,457.30) scale(1.072,1)" font-size="18" fill="#000" stroke="#fff" stroke-width="0.16" vector-effect="non-scaling-stroke">0.6</text>
<text transform="translate(735.81,403.10) scale(1.210,1)" font-size="17.5" font-style="italic" fill="#ff0000" stroke="#fff" stroke-width="0.28" vector-effect="non-scaling-stroke">R</text>
<path d="M754.40 397.20H765.60" stroke="#ff0000" stroke-width="0.8" fill="none"/>
<path d="M754.40 401.20H765.60" stroke="#ff0000" stroke-width="0.8" fill="none"/>
<text transform="translate(771.91,403.10) scale(1.098,1)" font-size="16.5" fill="#ff0000" stroke="#fff" stroke-width="0.16" vector-effect="non-scaling-stroke">0.7549</text>
<text transform="translate(735.81,419.50) scale(1.210,1)" font-size="17.5" font-style="italic" fill="#0000ff" stroke="#fff" stroke-width="0.28" vector-effect="non-scaling-stroke">R</text>
<path d="M754.40 413.60H765.60" stroke="#0000ff" stroke-width="0.8" fill="none"/>
<path d="M754.40 417.60H765.60" stroke="#0000ff" stroke-width="0.8" fill="none"/>
<text transform="translate(771.91,419.50) scale(1.097,1)" font-size="16.5" fill="#0000ff" stroke="#fff" stroke-width="0.16" vector-effect="non-scaling-stroke">0.8898</text>
<text transform="translate(587.10,376.15) rotate(-90) scale(1.128,1)" font-size="19.0" font-style="italic" fill="#000" stroke="#fff" stroke-width="0.28" vector-effect="non-scaling-stroke">E</text>
<path d="M574.20 354.30L574.20 356.62L590.70 356.62L590.70 354.30" stroke="#000" stroke-width="0.95" fill="none" stroke-linejoin="miter"/>
<text transform="translate(587.10,351.21) rotate(-90) scale(1.212,1)" font-size="17.2" fill="#000" stroke="#fff" stroke-width="0.16" vector-effect="non-scaling-stroke">erg</text>
<path d="M574.20 321.70L574.20 319.38L590.70 319.38L590.70 321.70" stroke="#000" stroke-width="0.95" fill="none" stroke-linejoin="miter"/>
<text transform="translate(733.73,479.00) scale(1.166,1)" font-size="17.5" font-style="italic" fill="#000" stroke="#fff" stroke-width="0.28" vector-effect="non-scaling-stroke">z</text>
</svg>
</body></html>
